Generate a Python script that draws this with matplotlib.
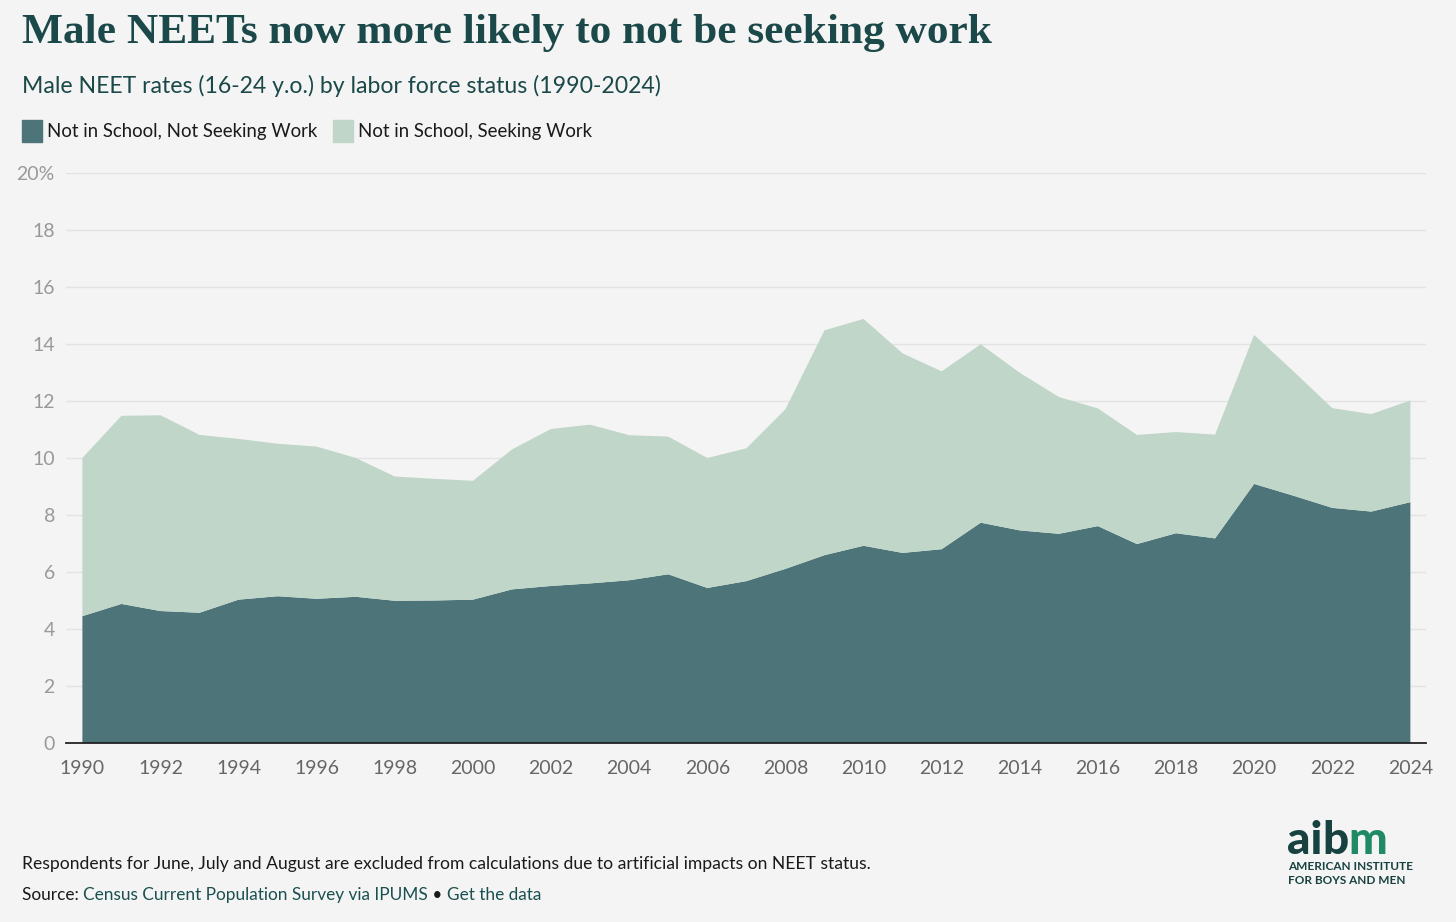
import matplotlib.pyplot as plt
import numpy as np

# data (percent of males 16-24)
years = list(range(1990, 2025))
not_seeking = [4.45, 4.88, 4.63, 4.57, 5.03, 5.15, 5.06, 5.13, 4.99, 5.00,
               5.03, 5.39, 5.51, 5.60, 5.71, 5.92, 5.44, 5.68, 6.11, 6.59,
               6.92, 6.67, 6.80, 7.73, 7.46, 7.34, 7.61, 6.98, 7.36, 7.18,
               9.09, 8.68, 8.25, 8.12, 8.45]
seeking = [5.55, 6.60, 6.87, 6.24, 5.64, 5.35, 5.34, 4.87, 4.36, 4.27,
           4.17, 4.91, 5.51, 5.57, 5.09, 4.83, 4.56, 4.66, 5.60, 7.89,
           7.96, 7.00, 6.24, 6.26, 5.53, 4.80, 4.13, 3.83, 3.55, 3.64,
           5.23, 4.37, 3.50, 3.42, 3.57]
series_names = ["Not in School, Not Seeking Work", "Not in School, Seeking Work"]
y_ticks = [0, 2, 4, 6, 8, 10, 12, 14, 16, 18, 20]
y_tick_labels = ["0", "2", "4", "6", "8", "10", "12", "14", "16", "18", "20%"]
x_ticks = list(range(1990, 2025, 2))

bg = "#f4f4f4"
dark = "#4d7478"
light = "#bfd6c8"
teal = "#1b4848"

plt.rcParams['font.family'] = ['Lato', 'DejaVu Sans']

fig = plt.figure(figsize=(14.56, 9.22), dpi=100, facecolor=bg)
ax = fig.add_axes([66 / 1456, 1 - 743 / 922, 1360 / 1456, 570 / 922])
ax.set_facecolor(bg)

ax.stackplot(years, not_seeking, seeking, colors=[dark, light], linewidth=0)

ax.set_xlim(1989.58, 2024.4)
ax.set_ylim(0, 20)
ax.set_yticks(y_ticks)
ax.set_yticklabels(y_tick_labels)
ax.set_xticks(x_ticks)
ax.grid(axis='y', color='#e3e3e3', linewidth=1)
ax.set_axisbelow(True)
for s in ['top', 'right', 'left']:
    ax.spines[s].set_visible(False)
ax.spines['bottom'].set_color('#222222')
ax.spines['bottom'].set_linewidth(1.3)
ax.spines['bottom'].set_zorder(5)
ax.tick_params(axis='y', length=0, pad=8, labelsize=14, labelcolor='#999999')
ax.tick_params(axis='x', length=0, pad=12, labelsize=14, labelcolor='#666666')

# title block
fig.text(22 / 1456, 1 - 33 / 922, "Male NEETs now more likely to not be seeking work",
         family='Liberation Serif', fontweight='bold', fontsize=31.2, color=teal, va='center')
fig.text(22 / 1456, 1 - 86 / 922, "Male NEET rates (16-24 y.o.) by labor force status (1990-2024)",
         fontsize=16.6, color=teal, va='center')

# legend
lx = [22, 333]
for i, name in enumerate(series_names):
    fig.patches.append(plt.Rectangle((lx[i] / 1456, 1 - 142 / 922), 20 / 1456, 22 / 922,
                                     transform=fig.transFigure, color=[dark, light][i]))
    fig.text((lx[i] + 25) / 1456, 1 - 132 / 922, name, fontsize=13.4, color='#1a1a1a', va='center')

# footer
fig.text(22 / 1456, 1 - 864 / 922,
         "Respondents for June, July and August are excluded from calculations due to artificial impacts on NEET status.",
         fontsize=12.6, color='#1a1a1a', va='center')
t = fig.text(22 / 1456, 1 - 895 / 922, "Source: ", fontsize=12.4, color='#1a1a1a', va='center')
fig.canvas.draw()
bb = t.get_window_extent()
t2 = fig.text(bb.x1 / 1456, 1 - 895 / 922, "Census Current Population Survey via IPUMS", fontsize=12.4,
              color='#1b5050', va='center')
fig.canvas.draw()
bb = t2.get_window_extent()
t3 = fig.text(bb.x1 / 1456, 1 - 895 / 922, " \u2022 ", fontsize=12.4, color='#1a1a1a', va='center')
fig.canvas.draw()
bb = t3.get_window_extent()
fig.text(bb.x1 / 1456, 1 - 895 / 922, "Get the data", fontsize=12.4, color='#1b5050', va='center')

# logo
logo_y = 1 - 841 / 922
la = fig.text(1287 / 1456, logo_y, "ai", family='Lato', fontweight='black', fontsize=33,
              color='#17423f', va='center')
fig.canvas.draw()
bb = la.get_window_extent()
lb = fig.text(bb.x1 / 1456, logo_y, "b", family='Lato', fontweight='black', fontsize=33,
              color='#17423f', va='center')
fig.canvas.draw()
bb = lb.get_window_extent()
fig.text(bb.x1 / 1456, logo_y, "m", family='Lato', fontweight='black', fontsize=33,
         color='#1f8a65', va='center')
fig.text(1288 / 1456, 1 - 866 / 922, "AMERICAN INSTITUTE", fontsize=8.5, fontweight='bold',
         color='#17423f', va='center')
fig.text(1288 / 1456, 1 - 880 / 922, "FOR BOYS AND MEN", fontsize=8.5, fontweight='bold',
         color='#17423f', va='center')

fig.savefig("out.png", dpi=100, facecolor=bg)
